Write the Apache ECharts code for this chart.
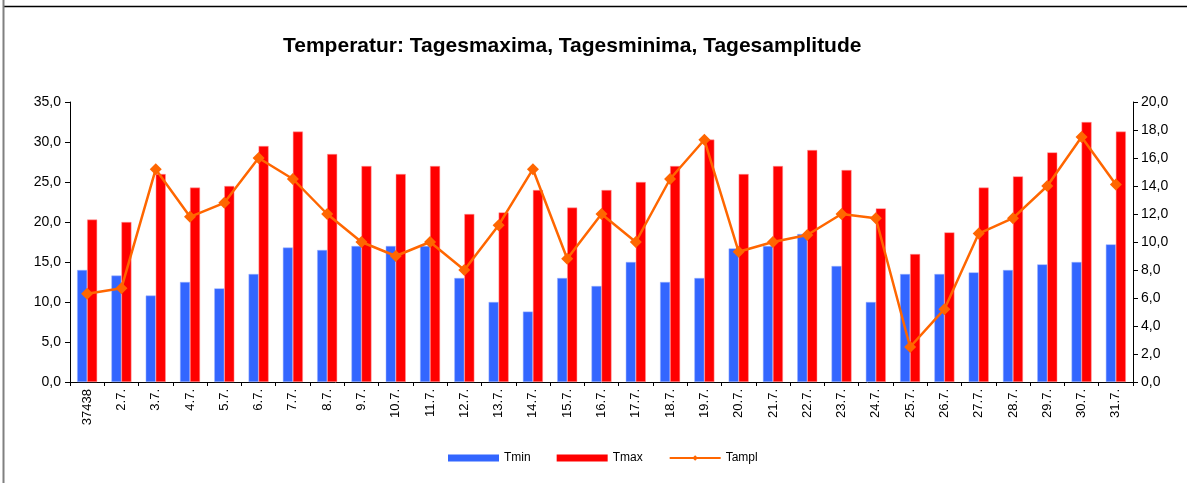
<!DOCTYPE html>
<html>
<head>
<meta charset="utf-8">
<script src="https://cdn.jsdelivr.net/npm/echarts@6/dist/echarts.min.js"></script>
<style>
html,body{margin:0;padding:0;background:#fff;}
#c{width:1187px;height:483px;}
</style>
</head>
<body>
<div id="c"></div>
<script>
const categories = ['37438','2.7.','3.7.','4.7.','5.7.','6.7.','7.7.','8.7.','9.7.','10.7.','11.7.','12.7.','13.7.','14.7.','15.7.','16.7.','17.7.','18.7.','19.7.','20.7.','21.7.','22.7.','23.7.','24.7.','25.7.','26.7.','27.7.','28.7.','29.7.','30.7.','31.7.'];
const tmin = [14.0,13.3,10.8,12.5,11.7,13.5,16.8,16.5,17.0,17.0,17.0,13.0,10.0,8.8,13.0,12.0,15.0,12.5,13.0,16.7,17.0,18.5,14.5,10.0,13.5,13.5,13.7,14.0,14.7,15.0,17.2];
const tmax = [20.3,20.0,26.0,24.3,24.5,29.5,31.3,28.5,27.0,26.0,27.0,21.0,21.2,24.0,21.8,24.0,25.0,27.0,30.3,26.0,27.0,29.0,26.5,21.7,16.0,18.7,24.3,25.7,28.7,32.5,31.3];
const tampl = [6.3,6.7,15.2,11.8,12.8,16.0,14.5,12.0,10.0,9.0,10.0,8.0,11.2,15.2,8.8,12.0,10.0,14.5,17.3,9.3,10.0,10.5,12.0,11.7,2.5,5.2,10.6,11.7,14.0,17.5,14.1];
const titleText = 'Temperatur: Tagesmaxima, Tagesminima, Tagesamplitude';

const font = '"Liberation Sans", Arial, sans-serif';
const fmt = v => v.toFixed(1).replace('.', ',');
const chart = echarts.init(document.getElementById('c'), null, {renderer: 'canvas'});
chart.setOption({
  animation: false,
  backgroundColor: '#fff',
  textStyle: {fontFamily: font},
  title: {
    text: titleText, left: 278, top: 31,
    textStyle: {fontFamily: font, fontSize: 21, fontWeight: 'bold', color: '#000'}
  },
  graphic: [
    {type: 'line', shape: {x1: 4, y1: 6.5, x2: 1187, y2: 6.5}, style: {stroke: '#000', lineWidth: 1.5}},
    {type: 'line', shape: {x1: 3.5, y1: 0, x2: 3.5, y2: 483}, style: {stroke: '#808080', lineWidth: 2}}
  ],
  legend: {
    left: 443, top: 447,
    itemWidth: 51, itemHeight: 7, itemGap: 26,
    textStyle: {fontFamily: font, fontSize: 12, color: '#000'},
    data: [
      {name: 'Tmin', icon: 'rect', itemStyle: {borderWidth: 0}},
      {name: 'Tmax', icon: 'rect', itemStyle: {borderWidth: 0}},
      {name: 'Tampl'}
    ]
  },
  grid: {left: 70, right: 54, top: 102, bottom: 101},
  xAxis: {
    type: 'category', data: categories,
    axisLine: {lineStyle: {color: '#000', width: 1}},
    axisTick: {show: true, length: 4, lineStyle: {color: '#000'}},
    axisLabel: {rotate: 90, interval: 0, fontSize: 13, color: '#000', fontFamily: font, margin: 7}
  },
  yAxis: [
    {
      type: 'value', min: 0, max: 35, interval: 5,
      axisLine: {show: true, lineStyle: {color: '#000'}},
      axisTick: {show: true, length: 5, lineStyle: {color: '#000'}},
      splitLine: {show: false},
      axisLabel: {formatter: fmt, fontSize: 14, color: '#000', fontFamily: font, margin: 9}
    },
    {
      type: 'value', min: 0, max: 20, interval: 2,
      axisLine: {show: true, lineStyle: {color: '#000'}},
      axisTick: {show: true, length: 5, lineStyle: {color: '#000'}},
      splitLine: {show: false},
      axisLabel: {formatter: fmt, fontSize: 14, color: '#000', fontFamily: font, margin: 8}
    }
  ],
  series: [
    {name: 'Tmin', type: 'bar', data: tmin, barWidth: 10, barGap: '0%',
     itemStyle: {color: '#3366FF', borderColor: '#9DB3FF', borderWidth: 0.5}},
    {name: 'Tmax', type: 'bar', data: tmax, barWidth: 10,
     itemStyle: {color: '#FF0000', borderColor: '#FF9A9A', borderWidth: 0.5}},
    {name: 'Tampl', type: 'line', yAxisIndex: 1, data: tampl, z: 5,
     symbol: 'diamond', symbolSize: 12,
     lineStyle: {color: '#FF6600', width: 2.5},
     itemStyle: {color: '#FF6600'}}
  ]
});
</script>
</body>
</html>
